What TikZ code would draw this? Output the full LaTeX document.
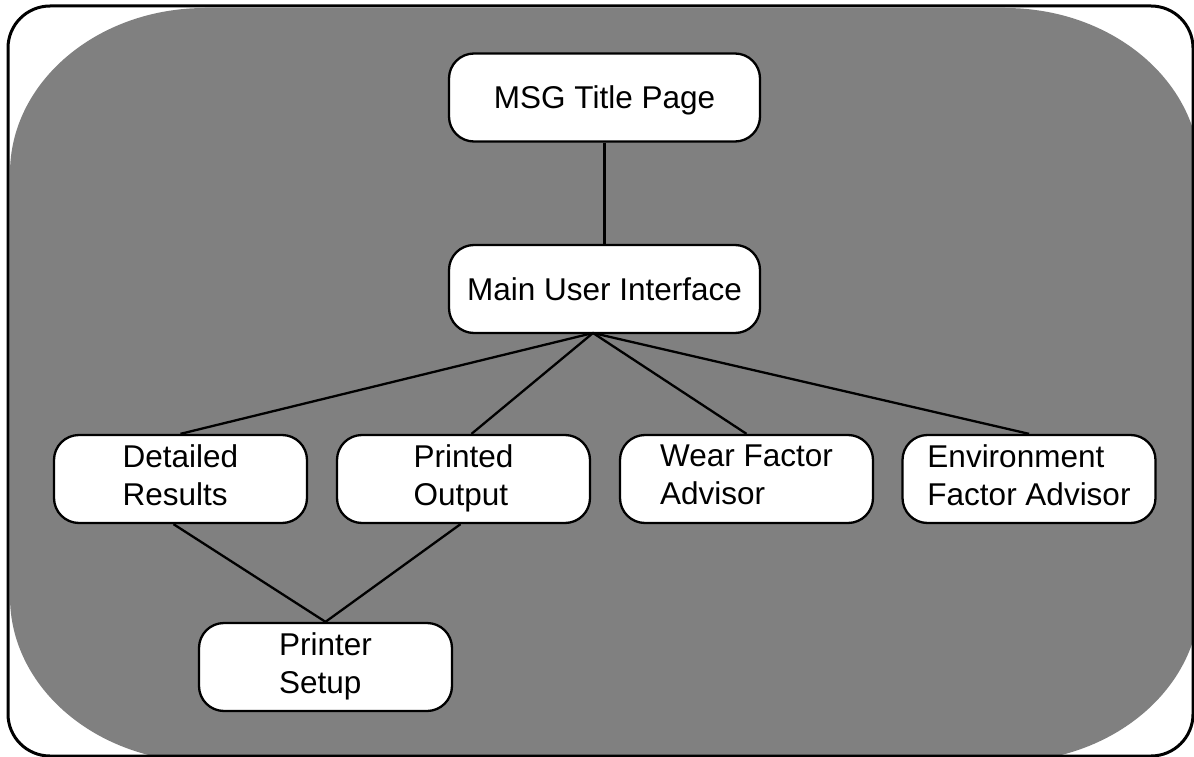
\documentclass[tikz,border=0pt]{standalone}
\usepackage{fontspec}
\setmainfont{Liberation Sans}
\usetikzlibrary{positioning}
\newcommand\bxstrut{\rule[-8pt]{0pt}{38pt}}

\begin{document}
\begin{tikzpicture}[x=1pt,y=1pt,
      bx/.style={rectangle,rounded corners=25pt,draw,line width=2.3pt,fill=white,
        minimum width=253pt,minimum height=88pt,inner sep=0pt,align=left,
        font=\fontsize{31.5}{38}\selectfont,
        execute at begin node=\bxstrut,execute at end node=\bxstrut},
      wide/.style={bx,minimum width=311pt},
      ln/.style={line width=2.3pt}]
    \useasboundingbox (0,0) rectangle (1194,-757);
    % grey backdrop and frame
    \fill[black!50] (205,-8) -- (1005,-8)
      arc[start angle=90,end angle=0,x radius=195,y radius=165] -- (1200,-597)
      arc[start angle=0,end angle=-90,x radius=195,y radius=165] -- (205,-762)
      arc[start angle=-90,end angle=-180,x radius=195,y radius=165] -- (10,-173)
      arc[start angle=180,end angle=90,x radius=195,y radius=165] -- cycle;
    \draw[line width=3pt,rounded corners=42pt] (8,-6) rectangle (1193,-756);
    \node[wide] (title) at (604.5,-97.5) {MSG Title Page};
    \node[wide] (mui) at (604.5,-289) {Main User Interface};
    \node[bx] (det) at (180.5,-479) {Detailed\\Results};
    \node[bx] (prn) at (463.5,-479) {Printed\\Output};
    \node[bx] (wear) at (746.5,-479) {Wear Factor\\Advisor};
    \node[bx] (env) at (1029,-479) {Environment\\Factor Advisor};
    \node[bx] (setup) at (325.5,-667) {Printer\\Setup};
    \coordinate (hub) at (593,-333);
    \draw[ln] (title)--(mui);
    \draw[ln] (hub)--(det.north);
    \draw[ln] (hub)--([xshift=8pt]prn.north);
    \draw[ln] (hub)--(wear.north);
    \draw[ln] (hub)--(env.north);
    \draw[ln] ([xshift=-7pt]det.south)--(setup.north);
    \draw[ln] ([xshift=-3pt]prn.south)--(setup.north);
  \end{tikzpicture}
\end{document}
